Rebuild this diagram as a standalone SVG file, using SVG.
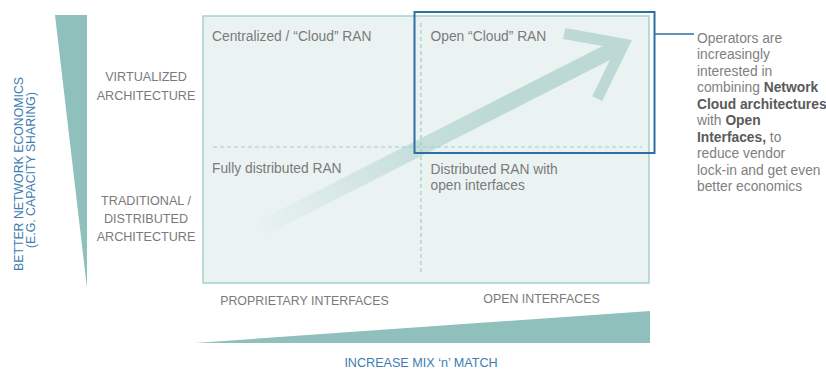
<svg xmlns="http://www.w3.org/2000/svg" width="826" height="369" viewBox="0 0 826 369">
  <defs>
    <style>
      .lbl { font-family: "Liberation Sans", Arial, sans-serif; fill: #7a7a7a; }
      .q { font-size: 13.8px; }
      .cap { font-size: 12.6px; text-anchor: middle; }
      .blue { font-family: "Liberation Sans", Arial, sans-serif; fill: #3d7db0; font-size: 12.3px; text-anchor: middle; }
      .note { font-family: "Liberation Sans", Arial, sans-serif; fill: #808080; font-size: 13.8px; }
      .b { font-weight: bold; fill: #5a5a5a; }
      .dash { stroke: #a3cbc7; stroke-width: 1.2; stroke-dasharray: 4 3; fill: none; }
      .wedge { fill: #8fc0bb; }
    </style>
    <linearGradient id="shaft" gradientUnits="userSpaceOnUse" x1="262" y1="228" x2="632" y2="40">
      <stop offset="0" stop-color="#bcd9d6" stop-opacity="0.05"/>
      <stop offset="0.4" stop-color="#bcd9d6" stop-opacity="0.75"/>
      <stop offset="0.65" stop-color="#bcd9d6" stop-opacity="1"/>
    </linearGradient>
  </defs>

  <rect width="826" height="369" fill="#ffffff"/>

  <!-- axis wedges -->
  <g id="axis-y">
    <polygon class="wedge" points="55,15 87,15 87,288"/>
    <text class="blue" transform="translate(23,174) rotate(-90)">BETTER NETWORK ECONOMICS</text>
    <text class="blue" transform="translate(35,170) rotate(-90)">(E.G. CAPACITY SHARING)</text>
  </g>
  <g id="axis-x">
    <polygon class="wedge" points="195,343 650,311 650,343"/>
    <text class="blue" x="421" y="366.5" style="font-size:12.6px">INCREASE MIX ‘n’ MATCH</text>
  </g>

  <!-- row labels -->
  <g id="row-virtualized">
    <text class="lbl cap" x="146" y="81">VIRTUALIZED</text>
    <text class="lbl cap" x="146" y="100">ARCHITECTURE</text>
  </g>
  <g id="row-traditional">
    <text class="lbl cap" x="146" y="204.5">TRADITIONAL /</text>
    <text class="lbl cap" x="146" y="222.5">DISTRIBUTED</text>
    <text class="lbl cap" x="146" y="241">ARCHITECTURE</text>
  </g>

  <!-- column labels -->
  <g id="col-proprietary">
    <text class="lbl cap" x="304.5" y="304.5" style="font-size:12.4px">PROPRIETARY INTERFACES</text>
  </g>
  <g id="col-open">
    <text class="lbl cap" x="541.5" y="303" style="font-size:12.4px">OPEN INTERFACES</text>
  </g>

  <!-- matrix -->
  <g id="matrix">
    <rect x="203" y="16" width="446" height="267" fill="#eaf3f2" stroke="#a8cfcb" stroke-width="1.5"/>
    <polygon fill="url(#shaft)" points="258.4,220.9 602.7,45.9 563.2,38.9 565.1,28.1 632,40 602.1,101.1 592.2,96.3 609.9,60.1 265.6,235.1"/>
    <line class="dash" x1="213" y1="147" x2="642" y2="147"/>
    <line class="dash" x1="421" y1="23" x2="421" y2="272"/>
  </g>

  <g id="q-centralized">
    <text class="lbl q" x="212" y="40.5">Centralized / “Cloud” RAN</text>
  </g>
  <g id="q-open-cloud">
    <text class="lbl q" x="430.5" y="40.5">Open “Cloud” RAN</text>
  </g>
  <g id="q-fully-distributed">
    <text class="lbl q" x="212" y="172.5">Fully distributed RAN</text>
  </g>
  <g id="q-distributed-open">
    <text class="lbl q" x="430.5" y="173.5">Distributed RAN with</text>
    <text class="lbl q" x="430.5" y="189.5">open interfaces</text>
  </g>

  <!-- highlight -->
  <g id="highlight">
    <rect x="414.5" y="12" width="240" height="141" fill="none" stroke="#2f6ea0" stroke-width="2"/>
  </g>

  <g id="connectors">
    <line x1="655" y1="34" x2="694" y2="34" stroke="#2f6ea0" stroke-width="1.5"/>
  </g>

  <g id="note">
    <text class="note" x="697" y="42.5">Operators are</text>
    <text class="note" x="697" y="59">increasingly</text>
    <text class="note" x="697" y="75.5">interested in</text>
    <text class="note" x="697" y="92">combining <tspan class="b">Network</tspan></text>
    <text class="note" x="697" y="108.5"><tspan class="b">Cloud architectures</tspan></text>
    <text class="note" x="697" y="125">with <tspan class="b">Open</tspan></text>
    <text class="note" x="697" y="141.5"><tspan class="b">Interfaces,</tspan> to</text>
    <text class="note" x="697" y="158">reduce vendor</text>
    <text class="note" x="697" y="174.5">lock-in and get even</text>
    <text class="note" x="697" y="191">better economics</text>
  </g>
</svg>
